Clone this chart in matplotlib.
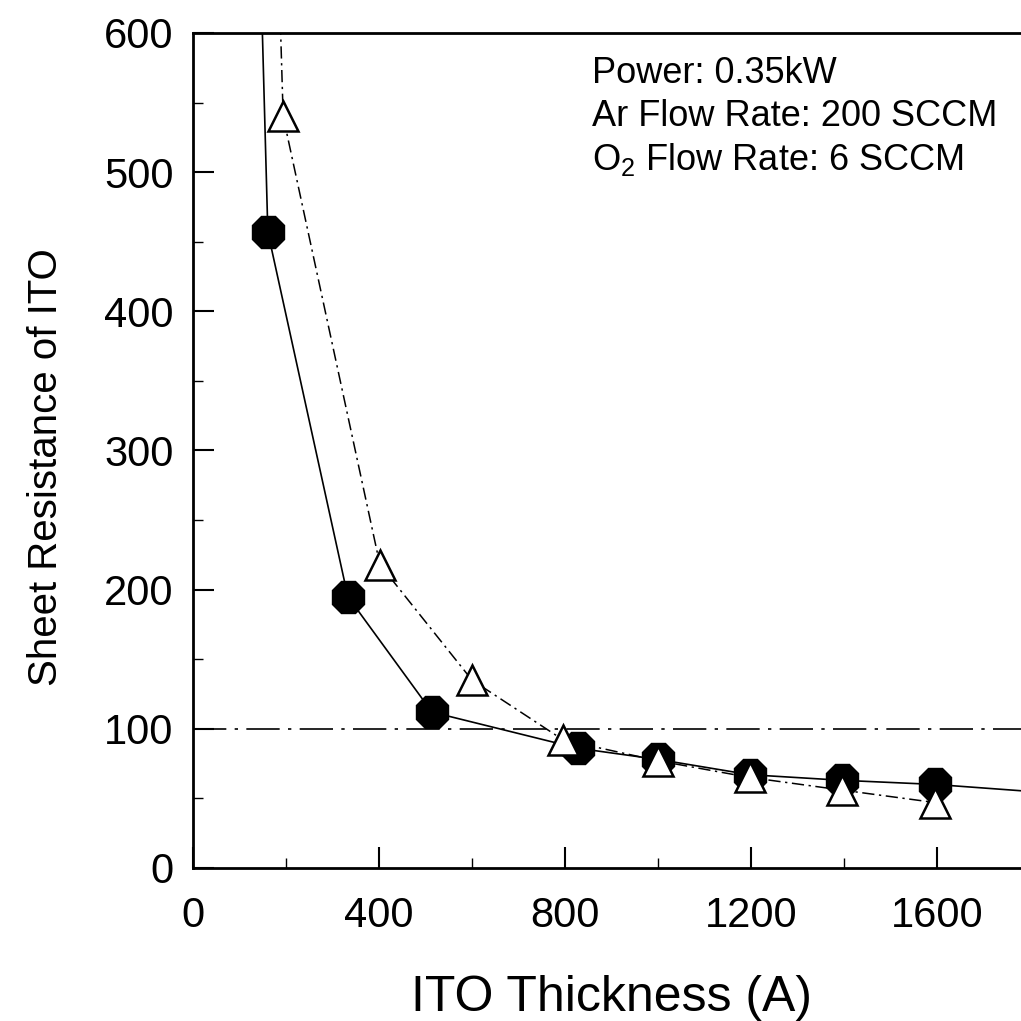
import matplotlib
matplotlib.use("Agg")
import matplotlib.pyplot as plt
from matplotlib.ticker import MultipleLocator

plt.rcParams['font.family'] = ['Liberation Sans', 'DejaVu Sans']
plt.rcParams['mathtext.fontset'] = 'custom'
plt.rcParams['mathtext.rm'] = 'Liberation Sans'

# filled circles (solid line), curve runs off the top and right of the frame
circle_x = [146, 161, 333, 514, 828, 1000, 1198, 1395, 1596, 1800]
circle_y = [640, 457, 195, 112, 86, 78, 67, 63, 60, 55]
circle_mark_x = circle_x[1:-1]
circle_mark_y = circle_y[1:-1]

# open triangles (dash-dot line)
tri_x = [185, 194, 402, 600, 796, 1000, 1198, 1395, 1596]
tri_y = [640, 540, 218, 135, 92, 77, 65, 56, 47]
tri_mark_x = tri_x[1:]
tri_mark_y = tri_y[1:]

ref_level = 100

notes = ["Power: 0.35kW", "Ar Flow Rate: 200 SCCM",
         r"O$_\mathregular{2}$ Flow Rate: 6 SCCM"]

fig = plt.figure(figsize=(10.21, 10.21), dpi=100)
ax = fig.add_axes([0.189, 0.1499, 0.8198, 0.8178])

ax.axhline(ref_level, color='black', lw=1.2, linestyle=(0, (20, 5, 2, 5)))

ax.plot(circle_x, circle_y, color='black', lw=1.2, zorder=2)
ax.plot(circle_mark_x, circle_mark_y, linestyle='none', marker='8', ms=25,
        mfc='black', mec='black', zorder=3)

ax.plot(tri_x, tri_y, color='black', lw=1.1, linestyle=(0, (8, 3, 1.5, 3)), zorder=2)
ax.plot(tri_mark_x, tri_mark_y, linestyle='none', marker='^', ms=21,
        mfc='white', mec='black', mew=1.8, zorder=4)

ax.set_xlim(0, 1800)
ax.set_ylim(0, 600)
ax.xaxis.set_major_locator(MultipleLocator(400))
ax.xaxis.set_minor_locator(MultipleLocator(200))
ax.yaxis.set_major_locator(MultipleLocator(100))
ax.yaxis.set_minor_locator(MultipleLocator(50))
ax.tick_params(which='major', direction='in', length=15, width=1.5, labelsize=30)
ax.tick_params(which='minor', direction='in', length=7, width=1.0)
ax.tick_params(axis='x', which='major', pad=20)
ax.tick_params(axis='y', which='major', pad=14)

for s in ax.spines.values():
    s.set_linewidth(2.0)

ax.set_xlabel("ITO Thickness (A)", fontsize=36, labelpad=28)
ax.set_ylabel("Sheet Resistance of ITO", fontsize=29)
ax.yaxis.set_label_coords(-0.153, 0.48)

for i, t in enumerate(notes):
    ax.text(858, 571 - 31 * i, t, fontsize=26, va='center', ha='left')

fig.savefig("out.png", dpi=100)
